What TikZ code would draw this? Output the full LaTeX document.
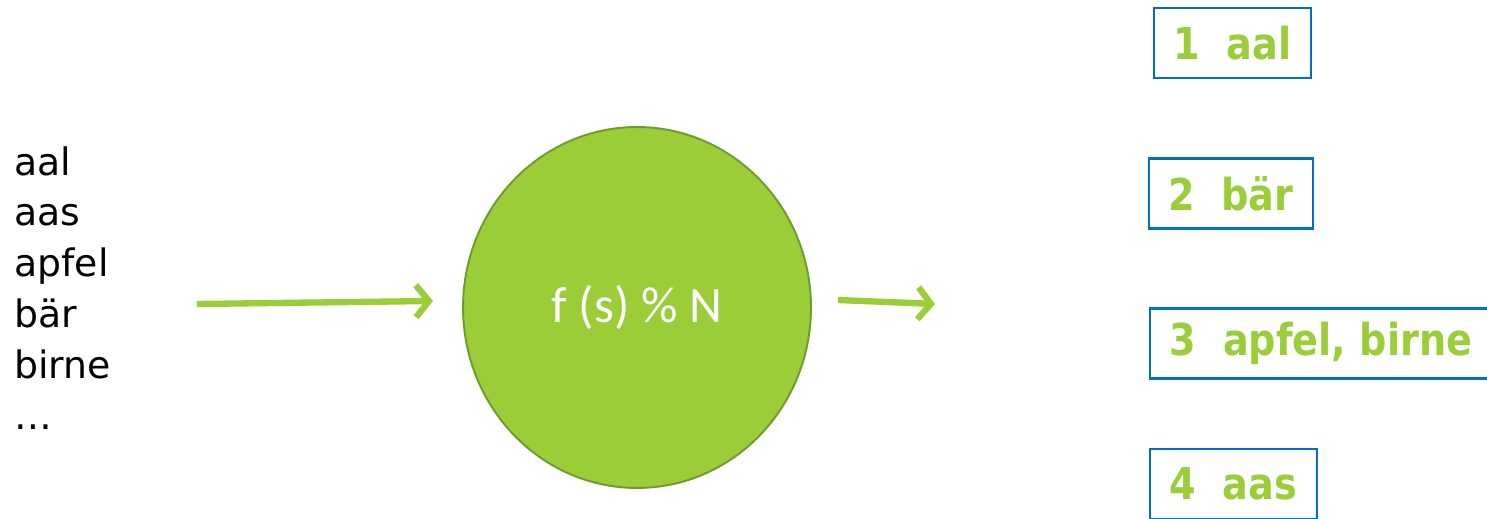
\documentclass[tikz,border=0pt]{standalone}
\usepackage{fontspec}
\setmainfont{DejaVu Sans}
\newfontfamily\bucketfont[FakeStretch=0.87]{DejaVu Sans}
\newfontfamily\hashfont{Carlito}
\usetikzlibrary{positioning,arrows.meta,shapes.geometric}
\definecolor{hashgreen}{HTML}{9ACD38}
\definecolor{hashedge}{HTML}{6F9A2C}
\definecolor{bucketblue}{HTML}{0070C0}
\tikzset{
  bucket/.style={draw=bucketblue, line width=1.3pt, minimum height=1.4cm, inner sep=0pt,
    text=hashgreen, font=\bucketfont\bfseries\fontsize{25}{30}\selectfont},
  flow/.style={draw=hashgreen, line width=3.6pt, -{Straight Barb[length=0.26cm,width=0.64cm]}},
}
\begin{document}
\begin{tikzpicture}[x=0.02cm, y=-0.02cm]
  \useasboundingbox (0,0) rectangle (1487,519);
  \clip (0,0) rectangle (1487,519);
  % input strings
  \node[anchor=north west, inner sep=0pt, align=left,
        font=\fontsize{21.5}{29}\selectfont] (words) at (14,146)
        {aal\\aas\\apfel\\bär\\birne\\…};
  % hash function
  \node[ellipse, draw=hashedge, fill=hashgreen, line width=1.1pt,
        minimum width=6.96cm, minimum height=7.22cm, text=white,
        font=\hashfont\fontsize{29}{32}\selectfont] (hash) at (637,307.5) {f (s) \% N};
  % buckets
  \node[bucket, minimum width=3.14cm] (b1) at (1232.5,43) {1~~aal};
  \node[bucket, minimum width=3.28cm] (b2) at (1231,193.5) {2~~bär};
  \node[bucket, minimum width=6.84cm] (b3) at (1321,343.5) {3~~apfel, birne};
  \node[bucket, minimum width=3.34cm] (b4) at (1233.5,484) {4~~aas};
  % arrows
  \coordinate (in1) at (197,304);
  \coordinate (in2) at (433,301);
  \coordinate (out1) at (838,300);
  \coordinate (out2) at (935,304);
  \draw[flow] (in1) -- (in2);
  \draw[flow] (out1) -- (out2);
\end{tikzpicture}
\end{document}
